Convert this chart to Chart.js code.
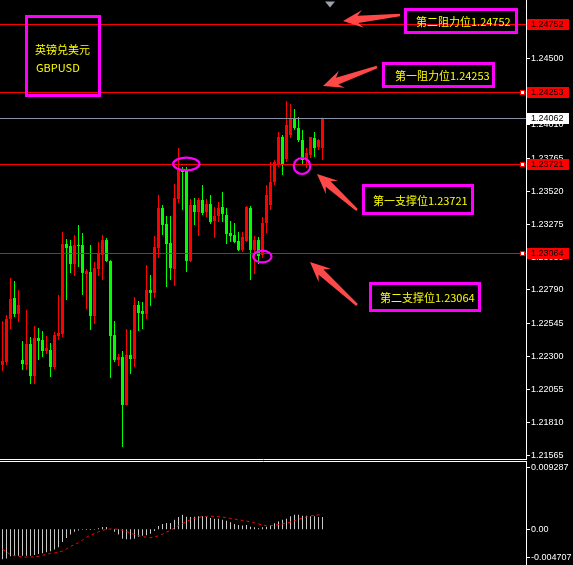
<!DOCTYPE html>
<html><head><meta charset="utf-8">
<script src="https://cdn.jsdelivr.net/npm/chart.js@4.4.1/dist/chart.umd.min.js"></script>
<style>
html,body{margin:0;padding:0;background:#000;width:573px;height:565px;overflow:hidden;}
#main{position:absolute;left:0;top:0;}
#macd{position:absolute;left:0;top:461px;}
</style></head><body>
<canvas id="main" width="573" height="460"></canvas>
<canvas id="macd" width="573" height="104"></canvas>
<script>
// ---------------- data ----------------
const slotCount = 131;
const opens = [
1.22236,1.22258,1.22576,1.22731,1.22613,1.22273,1.22236,1.22391,1.22154,1.22435,
1.22420,1.22339,1.22347,1.22221,1.22450,1.22465,1.23130,1.23115,1.22982,1.23122,
1.23122,1.22908,1.22923,1.22598,1.22945,1.23049,1.23159,1.23004,1.22457,1.22273,
1.22295,1.21940,1.22310,1.22280,1.22679,1.22635,1.22613,1.22790,1.22768,1.23100,
1.23396,1.23278,1.23137,1.22945,1.23462,1.23677,1.23677,1.23004,1.23418,1.23366,
1.23455,1.23366,1.23425,1.23300,1.23337,1.23403,1.23344,1.23211,1.23196,1.23152,
1.23086,1.23152,1.23396,1.23086,1.23159,1.23049,1.23285,1.23418,1.23588,1.23714,
1.23921,1.23758,1.23935,1.24061,1.23987,1.23898,1.23751,1.23788,1.23913,1.23847,
1.23839];
const highs = [
1.22561,1.22605,1.22879,1.22857,1.22790,1.22413,1.22642,1.22443,1.22524,1.22509,
1.22487,1.22450,1.22398,1.22480,1.22753,1.23219,1.23167,1.23159,1.23196,1.23270,
1.23211,1.22945,1.23122,1.22997,1.23145,1.23196,1.23174,1.23010,1.22561,1.22317,
1.22339,1.22502,1.22494,1.22738,1.22709,1.22701,1.22975,1.22901,1.23189,1.23492,
1.23418,1.23337,1.23337,1.23573,1.23839,1.23699,1.23699,1.23462,1.23470,1.23470,
1.23566,1.23462,1.23492,1.23403,1.23440,1.23514,1.23396,1.23300,1.23285,1.23219,
1.23219,1.23411,1.23411,1.23189,1.23182,1.23329,1.23566,1.23736,1.23751,1.23958,
1.23935,1.24187,1.24164,1.24128,1.24068,1.23972,1.23839,1.23921,1.23958,1.23906,
1.24062];
const lows = [
1.22191,1.22236,1.22502,1.22590,1.22553,1.22199,1.22199,1.22095,1.22095,1.22273,
1.22295,1.22317,1.22147,1.22206,1.22420,1.22443,1.22716,1.22916,1.22893,1.22960,
1.22753,1.22650,1.22494,1.22539,1.22893,1.22864,1.22997,1.22140,1.22258,1.22228,
1.21630,1.21935,1.22169,1.22221,1.22487,1.22502,1.22576,1.22672,1.22731,1.23026,
1.23196,1.22812,1.22864,1.22820,1.23433,1.23381,1.22923,1.22997,1.23270,1.23189,
1.23344,1.23329,1.23278,1.23174,1.23292,1.23292,1.23130,1.23145,1.23137,1.23078,
1.23071,1.23145,1.22864,1.22908,1.22982,1.23026,1.23211,1.23381,1.23566,1.23699,
1.23640,1.23736,1.23913,1.23972,1.23884,1.23714,1.23692,1.23765,1.23773,1.23825,
1.23751];
const closes = [
1.22265,1.22576,1.22723,1.22613,1.22679,1.22243,1.22391,1.22154,1.22435,1.22413,
1.22339,1.22361,1.22221,1.22457,1.22472,1.23130,1.23100,1.22982,1.23122,1.23115,
1.22916,1.22930,1.22598,1.22952,1.23056,1.23159,1.23004,1.22450,1.22273,1.22295,
1.21940,1.22310,1.22280,1.22679,1.22620,1.22613,1.22790,1.22768,1.23108,1.23396,
1.23270,1.23130,1.22952,1.23470,1.23677,1.23662,1.23004,1.23418,1.23366,1.23455,
1.23359,1.23425,1.23292,1.23337,1.23396,1.23352,1.23204,1.23189,1.23145,1.23086,
1.23182,1.23403,1.23086,1.23159,1.23041,1.23285,1.23492,1.23588,1.23736,1.23921,
1.23714,1.24009,1.24054,1.23987,1.23898,1.23751,1.23802,1.23921,1.23839,1.23898,
1.24062];
const macdHist = [
-0.00405,-0.00395,-0.00367,-0.00358,-0.00358,-0.00358,-0.00358,-0.00358,-0.00349,-0.00335,
-0.00326,-0.00312,-0.00298,-0.00274,-0.00242,-0.00172,-0.00116,-0.00070,-0.00033,-0.00014,
-0.00005,-0.00009,-0.00009,-0.00005,0.00014,0.00033,0.00033,0.00005,-0.00033,-0.00070,
-0.00126,-0.00135,-0.00135,-0.00126,-0.00102,-0.00088,-0.00079,-0.00060,-0.00023,0.00047,
0.00074,0.00088,0.00088,0.00130,0.00167,0.00200,0.00172,0.00167,0.00172,0.00177,
0.00177,0.00167,0.00153,0.00144,0.00144,0.00130,0.00116,0.00098,0.00074,0.00060,
0.00051,0.00060,0.00037,0.00028,0.00014,0.00028,0.00037,0.00051,0.00084,0.00107,
0.00130,0.00144,0.00177,0.00200,0.00200,0.00186,0.00186,0.00177,0.00177,0.00167,
0.00167];
const macdSignal = [
-0.00270,-0.00307,-0.00344,-0.00358,-0.00367,-0.00377,-0.00377,-0.00377,-0.00372,-0.00367,
-0.00353,-0.00339,-0.00326,-0.00321,-0.00312,-0.00293,-0.00265,-0.00233,-0.00205,-0.00181,
-0.00144,-0.00107,-0.00079,-0.00056,-0.00033,-0.00014,0.00000,0.00005,0.00005,0.00000,
-0.00014,-0.00028,-0.00051,-0.00070,-0.00084,-0.00098,-0.00107,-0.00112,-0.00102,-0.00088,
-0.00065,-0.00037,-0.00014,0.00019,0.00051,0.00079,0.00107,0.00130,0.00149,0.00163,
0.00172,0.00177,0.00177,0.00177,0.00172,0.00167,0.00158,0.00149,0.00140,0.00130,
0.00121,0.00112,0.00102,0.00088,0.00074,0.00060,0.00051,0.00051,0.00056,0.00065,
0.00074,0.00084,0.00098,0.00116,0.00135,0.00153,0.00167,0.00181,0.00191,0.00195,
0.00200];
const priceTicks = [1.24500,1.24255,1.24010,1.23765,1.23520,1.23275,1.23030,1.22790,1.22545,1.22300,1.22055,1.21810,1.21565];
const levelValues = [1.24752, 1.24253, 1.23721, 1.23064];
const bidValue = 1.24062;
const macdTickValues = [0.009287, 0, -0.004707];
const macdTickLabels = ['0.009287', '0.00', '-0.004707'];
const titleLines = ['英镑兑美元', 'GBPUSD'];
const levelTexts = ['第二阻力位1.24752', '第一阻力位1.24253', '第一支撑位1.23721', '第二支撑位1.23064'];

// ---------------- styling ----------------
const UP = '#FF0000', DOWN = '#00FF00', MAG = '#FF00FF', ARROW = '#FF4848', YEL = '#FFFF00';
const candleColors = opens.map((o, i) => closes[i] >= o ? UP : DOWN);
const bodies = opens.map((o, i) => ({x: i, y: [o, closes[i]]}));
const wicks = lows.map((l, i) => ({x: i, y: [l, highs[i]]}));
const tickFont = {family: 'Liberation Sans', size: 9};

function drawArrow(ctx, tx, ty, sx, sy) {
  const dx = tx - sx, dy = ty - sy, len = Math.hypot(dx, dy);
  const ux = dx / len, uy = dy / len, nx = -uy, ny = ux;
  const p = (a, b) => [tx - ux * a + nx * b, ty - uy * a + ny * b];
  const pts = [[tx, ty], p(20, 9), p(15, 3.6), [sx + nx * 1.2, sy + ny * 1.2], [sx - nx * 1.2, sy - ny * 1.2], p(15, -3.6), p(20, -9)];
  ctx.fillStyle = ARROW;
  ctx.beginPath();
  pts.forEach((q, k) => k ? ctx.lineTo(q[0], q[1]) : ctx.moveTo(q[0], q[1]));
  ctx.closePath();
  ctx.fill();
}

const mainDecor = {
  id: 'mainDecor',
  afterDraw(chart) {
    const ctx = chart.ctx, ys = chart.scales.y, a = chart.chartArea;
    const row = v => Math.round(ys.getPixelForValue(v));
    ctx.save();
    ctx.lineWidth = 1;
    // bid line
    ctx.strokeStyle = '#8892A4';
    let r = row(bidValue);
    ctx.beginPath(); ctx.moveTo(a.left, r + 0.5); ctx.lineTo(a.right, r + 0.5); ctx.stroke();
    // horizontal levels
    levelValues.forEach((v, k) => {
      const rr = row(v);
      ctx.strokeStyle = UP;
      ctx.beginPath(); ctx.moveTo(a.left, rr + 0.5); ctx.lineTo(a.right, rr + 0.5); ctx.stroke();
      if (k > 0) {
        ctx.fillStyle = UP; ctx.fillRect(a.right - 6, rr - 2, 5, 5);
        ctx.fillStyle = '#FFFFFF'; ctx.fillRect(a.right - 5, rr - 1, 3, 3);
      }
    });
    // bottom frame line
    ctx.strokeStyle = '#FFFFFF';
    ctx.beginPath(); ctx.moveTo(0, a.bottom + 0.5); ctx.lineTo(a.right + 1, a.bottom + 0.5); ctx.stroke();
    // chart shift marker
    ctx.fillStyle = '#9AA2AE';
    ctx.beginPath(); ctx.moveTo(325, 1.5); ctx.lineTo(335, 1.5); ctx.lineTo(330, 7.5); ctx.closePath(); ctx.fill();
    // ellipses
    ctx.strokeStyle = MAG; ctx.lineWidth = 2.2;
    [[186.3, 164, 13.2, 6.3], [302, 166, 8.3, 8], [262.3, 256.5, 9.2, 5.8]].forEach(e => {
      ctx.beginPath(); ctx.ellipse(e[0], e[1], e[2], e[3], 0, 0, Math.PI * 2); ctx.stroke();
    });
    // boxes
    ctx.lineWidth = 3;
    [[26.5, 16.5, 73, 79], [405.5, 9.5, 111, 23], [383.5, 63.5, 110, 23], [363.5, 185.5, 109, 28], [370.5, 283.5, 109, 27]]
      .forEach(b => ctx.strokeRect(b[0], b[1], b[2], b[3]));
    // texts
    ctx.fillStyle = YEL;
    ctx.textBaseline = 'middle'; ctx.textAlign = 'left';
    ctx.font = '11px "Noto Sans CJK SC"';
    ctx.fillText(titleLines[0], 35, 50);
    ctx.fillText(titleLines[1], 36, 68);
    const tpos = [[416, 22], [395, 76], [373, 201], [380, 297.5]];
    levelTexts.forEach((t, k) => ctx.fillText(t, tpos[k][0], tpos[k][1]));
    // arrows
    drawArrow(ctx, 343, 21, 400, 15);
    drawArrow(ctx, 323, 86, 377, 67);
    drawArrow(ctx, 317, 174, 357, 210);
    drawArrow(ctx, 310, 262, 357, 305);
    // axis price labels
    ctx.font = '9px "Liberation Sans"';
    const lab = (v, bg, fg) => {
      const rr = row(v);
      ctx.fillStyle = bg; ctx.fillRect(a.right + 1, rr - 5, 42, 11);
      ctx.fillStyle = fg; ctx.fillText(v.toFixed(5), a.right + 5, rr + 0.5);
    };
    levelValues.forEach(v => lab(v, UP, '#000000'));
    lab(bidValue, '#FFFFFF', '#000000');
    ctx.restore();
  }
};

new Chart(document.getElementById('main'), {
  type: 'bar',
  data: {
    datasets: [
      {data: bodies, backgroundColor: candleColors, barThickness: 3, grouped: false, minBarLength: 1, borderWidth: 0, inflateAmount: 0},
      {data: wicks, backgroundColor: candleColors, barThickness: 1, grouped: false, borderWidth: 0, inflateAmount: 0}
    ]
  },
  options: {
    responsive: false, animation: false, devicePixelRatio: 1,
    layout: {padding: {top: 0, bottom: 1, left: 0, right: 0}},
    plugins: {legend: {display: false}, tooltip: {enabled: false}},
    scales: {
      x: {type: 'linear', display: false, offset: false, min: -0.625, max: slotCount - 0.125},
      y: {
        position: 'right', min: 1.21541, max: 1.24933,
        afterBuildTicks: s => { s.ticks = priceTicks.map(v => ({value: v})); },
        afterFit: s => { s.width = 47; s.paddingTop = 0; s.paddingBottom = 0; },
        ticks: {color: '#FFFFFF', font: tickFont, padding: 1, autoSkip: false, callback: v => Number(v).toFixed(5)},
        grid: {drawOnChartArea: false, drawTicks: true, tickLength: 4, color: '#FFFFFF'},
        border: {display: true, color: '#FFFFFF', width: 1}
      }
    }
  },
  plugins: [mainDecor]
});

const macdDecor = {
  id: 'macdDecor',
  afterDraw(chart) {
    const ctx = chart.ctx, ys = chart.scales.y, a = chart.chartArea;
    ctx.save();
    ctx.strokeStyle = '#FFFFFF'; ctx.lineWidth = 1;
    ctx.beginPath(); ctx.moveTo(0, 0.5); ctx.lineTo(a.right + 1, 0.5); ctx.stroke();
    ctx.font = '9px "Liberation Sans"'; ctx.fillStyle = '#FFFFFF';
    ctx.textBaseline = 'middle'; ctx.textAlign = 'left';
    macdTickValues.forEach((v, k) => {
      let r = Math.round(ys.getPixelForValue(v));
      r = Math.min(Math.max(r, a.top + 6), a.bottom - 7);
      ctx.beginPath(); ctx.moveTo(a.right, r + 0.5); ctx.lineTo(a.right + 4, r + 0.5); ctx.stroke();
      ctx.fillText(macdTickLabels[k], a.right + 5, r + 0.5);
    });
    ctx.restore();
  }
};

new Chart(document.getElementById('macd'), {
  type: 'bar',
  data: {
    datasets: [
      {type: 'line', data: macdSignal.map((v, i) => ({x: i, y: v})), borderColor: '#FF0000', borderWidth: 1, borderDash: [3, 3], pointRadius: 0, tension: 0, fill: false},
      {data: macdHist.map((v, i) => ({x: i, y: v})), backgroundColor: '#C8C8C8', barThickness: 1, grouped: false, borderWidth: 0, inflateAmount: 0}
    ]
  },
  options: {
    responsive: false, animation: false, devicePixelRatio: 1,
    layout: {padding: {top: 0, bottom: 1, left: 0, right: 0}},
    plugins: {legend: {display: false}, tooltip: {enabled: false}},
    scales: {
      x: {type: 'linear', display: false, offset: false, min: -0.625, max: slotCount - 0.125},
      y: {
        position: 'right', min: -0.004707, max: 0.009287,
        afterFit: s => { s.width = 47; s.paddingTop = 0; s.paddingBottom = 0; },
        ticks: {display: false},
        grid: {display: false},
        border: {display: true, color: '#FFFFFF', width: 1}
      }
    }
  },
  plugins: [macdDecor]
});
</script>
</body></html>
